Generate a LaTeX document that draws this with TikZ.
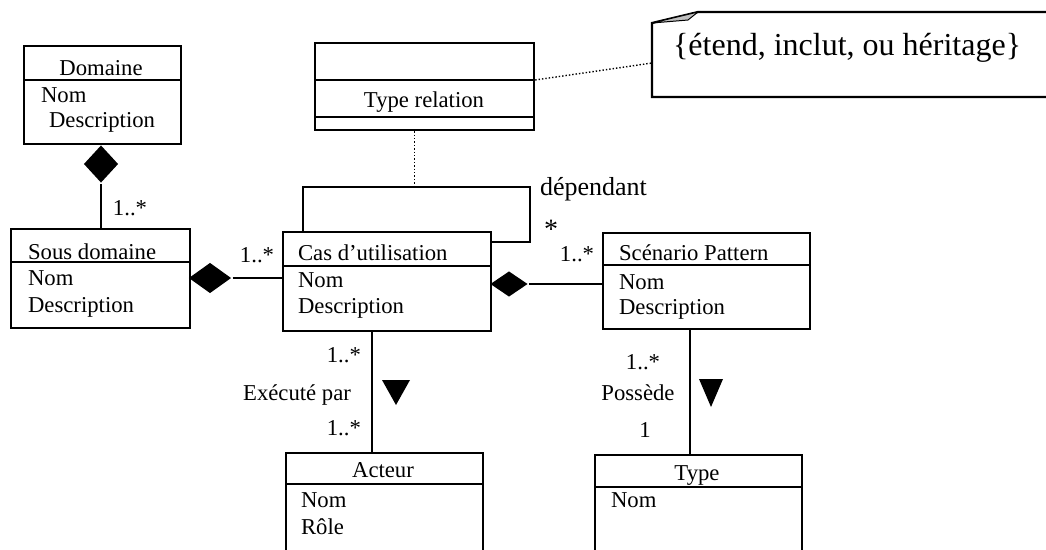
\documentclass[tikz,border=0pt]{standalone}
\usepackage{fontspec}
\setmainfont{Liberation Serif}
\usetikzlibrary{shapes.geometric}

\begin{document}
\begin{tikzpicture}[x=1pt, y=-1pt, line width=2.2pt,
    font=\fontsize{22.7}{27}\selectfont,
    classbox/.style={draw, anchor=north west, inner sep=0},
    comp/.style={diamond, fill=black, inner sep=0},
    txt/.style={inner sep=0, anchor=base west},
    ttl/.style={inner sep=0, anchor=base},
    mult/.style={inner sep=0, anchor=base},
    link/.style={dotted, line width=1.4pt}]
    \clip (0,0) rectangle (1046,549);

    % classes
    \node[classbox, minimum width=157pt, minimum height=98pt] (domaine) at (23,45) {};
    \node[classbox, minimum width=179pt, minimum height=99pt] (sousdom) at (10,228) {};
    \node[classbox, minimum width=208pt, minimum height=99pt] (cas) at (282,231) {};
    \node[classbox, minimum width=207pt, minimum height=96pt] (scen) at (602,232) {};
    \node[classbox, minimum width=219pt, minimum height=87pt] (typerel) at (314,42) {};
    \node[classbox, minimum width=197pt, minimum height=130pt] (acteur) at (285,452) {};
    \node[classbox, minimum width=207pt, minimum height=130pt] (type) at (594,454) {};

    \draw ([yshift=-35pt]domaine.north west) -- ([yshift=-35pt]domaine.north east);
    \draw ([yshift=-34pt]sousdom.north west) -- ([yshift=-34pt]sousdom.north east);
    \draw ([yshift=-35pt]cas.north west) -- ([yshift=-35pt]cas.north east);
    \draw ([yshift=-33pt]scen.north west) -- ([yshift=-33pt]scen.north east);
    \draw ([yshift=-38pt]typerel.north west) -- ([yshift=-38pt]typerel.north east);
    \draw ([yshift=-75pt]typerel.north west) -- ([yshift=-75pt]typerel.north east);
    \draw ([yshift=-32pt]acteur.north west) -- ([yshift=-32pt]acteur.north east);
    \draw ([yshift=-33pt]type.north west) -- ([yshift=-33pt]type.north east);

    \node[ttl] (domT) at (101,75) {Domaine};
    \node[txt] (domA) at (40,102) {Nom};
    \node[txt] (domB) at (48,127) {Description};
    \node[txt] (sdT) at (27,259) {Sous domaine};
    \node[txt] (sdA) at (27,285) {Nom};
    \node[txt] (sdB) at (27,312) {Description};
    \node[txt] (casT) at (297,260) {Cas d’utilisation};
    \node[txt] (casA) at (297,287) {Nom};
    \node[txt] (casB) at (297,313) {Description};
    \node[txt] (scT) at (618,260) {Scénario Pattern};
    \node[txt] (scA) at (618,289) {Nom};
    \node[txt] (scB) at (618,314) {Description};
    \node[ttl] (trT) at (424,107) {Type relation};
    \node[ttl] (actT) at (383,477) {Acteur};
    \node[txt] (actA) at (300,507) {Nom};
    \node[txt] (actB) at (300,534) {Rôle};
    \node[ttl] (tyT) at (697,480) {Type};
    \node[txt] (tyA) at (610,507) {Nom};

    % compositions
    \node[comp, minimum width=35pt, minimum height=38pt] (dDom) at (101,164) {};
    \node[comp, minimum width=43pt, minimum height=31pt] (dSous) at (210,278) {};
    \node[comp, minimum width=38pt, minimum height=26pt] (dCas) at (509,284) {};
    \draw (dDom.south) -- (dDom.south |- sousdom.north);
    \draw (dSous.east) -- (dSous.east -| cas.west);
    \draw (dCas.east) -- (dCas.east -| scen.west);
    \node[mult] (mDom) at (130,215) {1..*};
    \node[mult] (mSous) at (257,262) {1..*};
    \node[mult] (mScen) at (577,261) {1..*};

    % self association
    \coordinate (loopTR) at (530,187);
    \draw ([xshift=21pt]cas.north west) |- (loopTR) |- ([yshift=-11pt]cas.north east);
    \node[txt, font=\fontsize{26}{30}\selectfont] (dep) at (539,195) {dépendant};
    \node[mult, font=\fontsize{28}{30}\selectfont] (mDep) at (551,238) {*};
    \draw[link] ([xshift=-10pt]typerel.south) -- ([xshift=-10pt]typerel.south |- loopTR);

    % note
    \coordinate (noteL) at (652,63);
    \draw (1060,12) -- (698,12) -- (652,23) -- (652,97) -- (1060,97);
    \draw[line width=1pt, fill=black!25] (652,23) -- (698,12) -- (688,20) -- cycle;
    \node[txt, font=\fontsize{32}{36}\selectfont] (noteT) at (672,55) {\{étend, inclut, ou héritage\}};
    \draw[link] ([yshift=-38pt]typerel.north east) -- (noteL);

    % executes
    \draw ([xshift=-13pt]acteur.north) -- ([xshift=-13pt]acteur.north |- cas.south);
    \node[mult, anchor=base east] (mCasA) at (362,362) {1..*};
    \node[mult, anchor=base east] (exec) at (352,400) {Exécuté par};
    \node[mult, anchor=base east] (mActA) at (362,435) {1..*};
    \fill (382,380) -- (410,380) -- (396,405) -- cycle;

    % possede
    \draw ([xshift=-9pt]type.north) -- ([xshift=-9pt]type.north |- scen.south);
    \node[mult] (mScT) at (643,369) {1..*};
    \node[mult] (poss) at (638,400) {Possède};
    \node[mult] (mTy) at (645,437) {1};
    \fill (699,379) -- (723,379) -- (711,407) -- cycle;
\end{tikzpicture}
\end{document}
